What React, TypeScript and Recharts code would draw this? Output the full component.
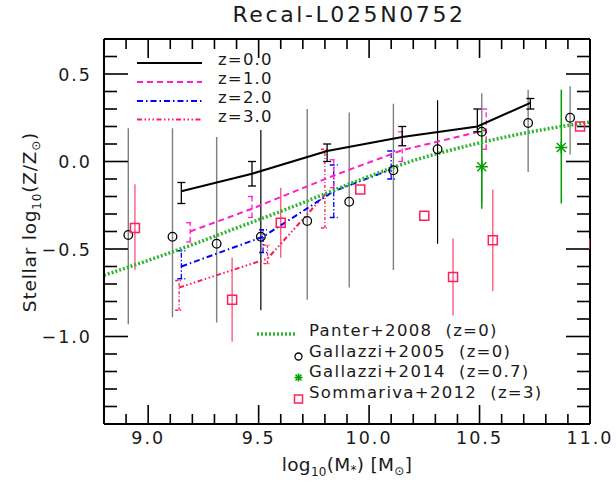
import React from 'react';
import { ComposedChart, Line, Scatter, XAxis, YAxis, ErrorBar } from 'recharts';

const FONT = "'DejaVu Sans', sans-serif";
const TXT = '#1a1a1a';

const title = 'Recal-L025N0752';
const xDomain: [number, number] = [8.8, 11.0];
const yDomain: [number, number] = [-1.5, 0.7];
const xMajorTicks = [9.0, 9.5, 10.0, 10.5, 11.0];
const xMinorTicks = [8.9, 9.1, 9.2, 9.3, 9.4, 9.6, 9.7, 9.8, 9.9, 10.1, 10.2, 10.3, 10.4, 10.6, 10.7, 10.8, 10.9];
const yMajorTicks = [-1.0, -0.5, 0.0, 0.5];
const yMinorTicks = [-1.4, -1.3, -1.2, -1.1, -0.9, -0.8, -0.7, -0.6, -0.4, -0.3, -0.2, -0.1, 0.1, 0.2, 0.3, 0.4, 0.6];

// simulation: z = 0.0
const massZ0 = [9.15, 9.47, 9.81, 10.15, 10.49, 10.73];
const metZ0 = [-0.17, -0.07, 0.06, 0.14, 0.2, 0.335];
const loZ0 = [-0.24, -0.14, 0.0, 0.09, 0.17, 0.3];
const hiZ0 = [-0.12, 0.0, 0.1, 0.2, 0.3, 0.36];
// z = 1.0
const massZ1 = [9.19, 9.47, 9.84, 10.15, 10.53];
const metZ1 = [-0.4, -0.27, -0.08, 0.065, 0.18];
const loZ1 = [-0.46, -0.32, -0.15, 0.0, 0.07];
const hiZ1 = [-0.35, -0.2, 0.01, 0.17, 0.3];
// z = 2.0
const massZ2 = [9.15, 9.52, 9.84, 10.1];
const metZ2 = [-0.6, -0.43, -0.17, -0.045];
const loZ2 = [-0.67, -0.52, -0.32, -0.1];
const hiZ2 = [-0.51, -0.39, -0.02, 0.06];
// z = 3.0
const massZ3 = [9.14, 9.54, 9.8];
const metZ3 = [-0.72, -0.555, -0.19];
const loZ3 = [-0.85, -0.584, -0.38];
const hiZ3 = [-0.68, -0.478, 0.07];

// Panter+2008 (z=0)
const panterMass = [8.8, 9.0, 9.2, 9.4, 9.6, 9.8, 10.0, 10.2, 10.4, 10.6, 10.8, 11.0];
const panterMet = [-0.65, -0.565, -0.475, -0.38, -0.285, -0.185, -0.085, 0.005, 0.075, 0.135, 0.185, 0.225];

// Gallazzi+2005 (z=0)
const gal05Mass = [8.91, 9.11, 9.31, 9.51, 9.72, 9.91, 10.11, 10.31, 10.51, 10.72, 10.91];
const gal05Met = [-0.42, -0.43, -0.47, -0.43, -0.34, -0.23, -0.05, 0.07, 0.17, 0.22, 0.25];
const gal05Lo = [-0.93, -0.89, -0.92, -0.85, -0.79, -0.72, -0.62, -0.47, -0.23, -0.06, 0.04];
const gal05Hi = [0.19, 0.19, 0.14, 0.18, 0.3, 0.28, 0.33, 0.35, 0.39, 0.41, 0.43];
const gal05BarDark = [false, false, false, true, false, false, false, true, false, false, false];

// Gallazzi+2014 (z=0.7)
const gal14Mass = [10.51, 10.87];
const gal14Met = [-0.03, 0.08];
const gal14Lo = [-0.27, -0.24];
const gal14Hi = [0.22, 0.41];

// Sommariva+2012 (z=3)
const somMass = [8.94, 9.38, 9.6, 9.96, 10.25, 10.38, 10.56, 10.955, 11.02];
const somMet = [-0.38, -0.79, -0.35, -0.16, -0.31, -0.66, -0.45, 0.2, -0.47];
const somLo = [-0.62, -1.03, -0.55, -0.16, -0.31, -0.88, -0.74, 0.2, -0.47];
const somHi = [-0.13, -0.55, -0.15, -0.16, -0.31, -0.44, -0.16, 0.2, -0.47];

const simLegend = ['z=0.0', 'z=1.0', 'z=2.0', 'z=3.0'];
const obsLegend = ['Panter+2008  (z=0)', 'Gallazzi+2005  (z=0)', 'Gallazzi+2014  (z=0.7)', 'Sommariva+2012  (z=3)'];

const C_Z0 = '#000000';
const C_Z1 = '#ff1ec8';
const C_Z2 = '#0000ff';
const C_Z3 = '#ff1a55';
const C_PANTER = '#2fb52f';
const C_GAL14 = '#00a000';
const C_SOM = '#ff1f5a';
const C_SOMBAR = '#ff5a80';
const D_Z1 = '6 4';
const D_Z2 = '6 3 1.5 3';
const D_Z3 = '5 2.5 1.5 2.5 1.5 2.5 1.5 2.5';
const D_PANTER = '2 2';

type Row = { x: number; y: number; err: [number, number] };
const rows = (xs: number[], ys: number[], lo: number[], hi: number[]): Row[] =>
  xs.map((x, i) => ({ x, y: ys[i], err: [+(ys[i] - lo[i]).toFixed(3), +(hi[i] - ys[i]).toFixed(3)] }));

const z0Rows = rows(massZ0, metZ0, loZ0, hiZ0);
const z1Rows = rows(massZ1, metZ1, loZ1, hiZ1);
const z2Rows = rows(massZ2, metZ2, loZ2, hiZ2);
const z3Rows = rows(massZ3, metZ3, loZ3, hiZ3);
const panterRows = panterMass.map((x, i) => ({ x, y: panterMet[i] }));
const gal05All = rows(gal05Mass, gal05Met, gal05Lo, gal05Hi);
const gal05Gray = gal05All.filter((_, i) => !gal05BarDark[i]);
const gal05Dark = gal05All.filter((_, i) => gal05BarDark[i]);
const gal14Rows = rows(gal14Mass, gal14Met, gal14Lo, gal14Hi);
const somRows = rows(somMass, somMet, somLo, somHi);

const fmt = (v: number) => (v < 0 ? '\u2212' + Math.abs(v).toFixed(1) : v.toFixed(1));

const XTick = (p: any) => (
  <text x={p.x} y={p.y + 20} textAnchor="middle" fontSize={17.5} fontFamily={FONT} fill={TXT} letterSpacing={2}>
    {fmt(p.payload.value)}
  </text>
);
const YTick = (p: any) => (
  <text x={p.x - 12} y={p.y + 6.5} textAnchor="end" fontSize={17.5} fontFamily={FONT} fill={TXT} letterSpacing={2}>
    {fmt(p.payload.value)}
  </text>
);
const NoLabel = () => <g />;

const OpenCircle = (p: any) =>
  p.cx == null ? null : <circle cx={p.cx} cy={p.cy} r={4.3} fill="none" stroke="#000" strokeWidth={1.3} />;
const OpenSquare = (p: any) =>
  p.cx == null ? null : (
    <rect x={p.cx - 4.5} y={p.cy - 4.5} width={9} height={9} fill="none" stroke={C_SOM} strokeWidth={1.5} />
  );
const Asterisk = ({ cx, cy, s, color, w }: { cx: number; cy: number; s: number; color: string; w: number }) => (
  <g stroke={color} strokeWidth={w}>
    <line x1={cx - s} y1={cy} x2={cx + s} y2={cy} />
    <line x1={cx} y1={cy - s} x2={cx} y2={cy + s} />
    <line x1={cx - s * 0.75} y1={cy - s * 0.75} x2={cx + s * 0.75} y2={cy + s * 0.75} />
    <line x1={cx - s * 0.75} y1={cy + s * 0.75} x2={cx + s * 0.75} y2={cy - s * 0.75} />
  </g>
);
const AsteriskShape = (p: any) =>
  p.cx == null ? null : <Asterisk cx={p.cx} cy={p.cy} s={6} color={C_GAL14} w={1.5} />;

const frameLine = { stroke: '#000', strokeWidth: 2 };
const tickLineStyle = { stroke: '#000', strokeWidth: 1.6 };

export default function App() {
  const simColors = [C_Z0, C_Z1, C_Z2, C_Z3];
  const simDash = [undefined, D_Z1, D_Z2, D_Z3];
  const simY = [63, 82, 101, 119.5];
  const obsY = [336, 356.5, 377, 398];
  return (
    <div style={{ position: 'absolute', left: 0, top: 0, width: 616, height: 491, background: '#fff' }}>
      <ComposedChart width={616} height={491} data={panterRows} margin={{ top: 39, right: 26, bottom: 27, left: 44 }}>
        <XAxis
          xAxisId="x"
          dataKey="x"
          type="number"
          domain={xDomain}
          allowDataOverflow
          ticks={xMajorTicks}
          interval={0}
          tickLine={false}
          axisLine={false}
          tickSize={0}
          tickMargin={0}
          height={40}
          tick={XTick}
        />
        <YAxis
          yAxisId="y"
          dataKey="y"
          type="number"
          domain={yDomain}
          allowDataOverflow
          ticks={yMajorTicks}
          interval={0}
          tickLine={false}
          axisLine={false}
          tickSize={0}
          tickMargin={0}
          width={60}
          tick={YTick}
        />
        {/* frame and inward ticks */}
        <XAxis xAxisId="xb" dataKey="x" type="number" domain={xDomain} allowDataOverflow orientation="bottom" mirror height={1} ticks={xMajorTicks} interval={0} tick={NoLabel} tickSize={19} axisLine={frameLine} tickLine={tickLineStyle} />
        <XAxis xAxisId="xbm" dataKey="x" type="number" domain={xDomain} allowDataOverflow orientation="bottom" mirror height={1} ticks={xMinorTicks} interval={0} tick={NoLabel} tickSize={9} axisLine={false} tickLine={tickLineStyle} />
        <XAxis xAxisId="xt" dataKey="x" type="number" domain={xDomain} allowDataOverflow orientation="top" mirror height={1} ticks={xMajorTicks} interval={0} tick={NoLabel} tickSize={19} axisLine={frameLine} tickLine={tickLineStyle} />
        <XAxis xAxisId="xtm" dataKey="x" type="number" domain={xDomain} allowDataOverflow orientation="top" mirror height={1} ticks={xMinorTicks} interval={0} tick={NoLabel} tickSize={9} axisLine={false} tickLine={tickLineStyle} />
        <YAxis yAxisId="yl" dataKey="y" type="number" domain={yDomain} allowDataOverflow orientation="left" mirror width={1} ticks={yMajorTicks} interval={0} tick={NoLabel} tickSize={24} axisLine={frameLine} tickLine={tickLineStyle} />
        <YAxis yAxisId="ylm" dataKey="y" type="number" domain={yDomain} allowDataOverflow orientation="left" mirror width={1} ticks={yMinorTicks} interval={0} tick={NoLabel} tickSize={12} axisLine={false} tickLine={tickLineStyle} />
        <YAxis yAxisId="yr" dataKey="y" type="number" domain={yDomain} allowDataOverflow orientation="right" mirror width={1} ticks={yMajorTicks} interval={0} tick={NoLabel} tickSize={24} axisLine={frameLine} tickLine={tickLineStyle} />
        <YAxis yAxisId="yrm" dataKey="y" type="number" domain={yDomain} allowDataOverflow orientation="right" mirror width={1} ticks={yMinorTicks} interval={0} tick={NoLabel} tickSize={12} axisLine={false} tickLine={tickLineStyle} />

        {/* invisible carriers so the frame axes own a scale */}
        <Line xAxisId="xb" yAxisId="yl" dataKey="y" stroke="none" dot={false} activeDot={false} legendType="none" isAnimationActive={false} />
        <Line xAxisId="xbm" yAxisId="ylm" dataKey="y" stroke="none" dot={false} activeDot={false} legendType="none" isAnimationActive={false} />
        <Line xAxisId="xt" yAxisId="yr" dataKey="y" stroke="none" dot={false} activeDot={false} legendType="none" isAnimationActive={false} />
        <Line xAxisId="xtm" yAxisId="yrm" dataKey="y" stroke="none" dot={false} activeDot={false} legendType="none" isAnimationActive={false} />

        {/* observations */}
        <Scatter xAxisId="x" yAxisId="y" data={gal05Gray} shape={OpenCircle} isAnimationActive={false}>
          <ErrorBar dataKey="err" direction="y" width={0} stroke="#7f7f7f" strokeWidth={1.4} />
        </Scatter>
        <Scatter xAxisId="x" yAxisId="y" data={gal05Dark} shape={OpenCircle} isAnimationActive={false}>
          <ErrorBar dataKey="err" direction="y" width={0} stroke="#000" strokeWidth={1.2} />
        </Scatter>
        <Scatter xAxisId="x" yAxisId="y" data={somRows} shape={OpenSquare} isAnimationActive={false}>
          <ErrorBar dataKey="err" direction="y" width={0} stroke={C_SOMBAR} strokeWidth={1.4} />
        </Scatter>
        <Scatter xAxisId="x" yAxisId="y" data={gal14Rows} shape={AsteriskShape} isAnimationActive={false}>
          <ErrorBar dataKey="err" direction="y" width={0} stroke={C_GAL14} strokeWidth={1.5} />
        </Scatter>

        {/* simulation */}
        <Line xAxisId="x" yAxisId="y" data={z3Rows} dataKey="y" stroke={C_Z3} strokeWidth={2} strokeDasharray={D_Z3} dot={false} isAnimationActive={false}>
          <ErrorBar dataKey="err" direction="y" width={4} stroke={C_Z3} strokeWidth={1.3} strokeDasharray="3 2 1 2" />
        </Line>
        <Line xAxisId="x" yAxisId="y" data={z2Rows} dataKey="y" stroke={C_Z2} strokeWidth={2} strokeDasharray={D_Z2} dot={false} isAnimationActive={false}>
          <ErrorBar dataKey="err" direction="y" width={4} stroke={C_Z2} strokeWidth={1.3} strokeDasharray="5 2 1.5 2" />
        </Line>
        <Line xAxisId="x" yAxisId="y" data={z1Rows} dataKey="y" stroke={C_Z1} strokeWidth={2} strokeDasharray={D_Z1} dot={false} isAnimationActive={false}>
          <ErrorBar dataKey="err" direction="y" width={4} stroke={C_Z1} strokeWidth={1.3} strokeDasharray="5 3" />
        </Line>
        <Line xAxisId="x" yAxisId="y" data={z0Rows} dataKey="y" stroke={C_Z0} strokeWidth={2} dot={false} isAnimationActive={false}>
          <ErrorBar dataKey="err" direction="y" width={4} stroke={C_Z0} strokeWidth={1.3} />
        </Line>
        <Line xAxisId="x" yAxisId="y" data={panterRows} dataKey="y" type="monotone" stroke={C_PANTER} strokeWidth={3.5} strokeDasharray={D_PANTER} dot={false} isAnimationActive={false} />
      </ComposedChart>

      <svg width={616} height={491} style={{ position: 'absolute', left: 0, top: 0, pointerEvents: 'none' }} fontFamily={FONT}>
        <text x={349} y={22} textAnchor="middle" fontSize={22} fill={TXT} letterSpacing={2.6}>{title}</text>

        <text x={347} y={471} textAnchor="middle" fontSize={18.5} fill={TXT} letterSpacing={0.3}>
          <tspan>log</tspan>
          <tspan fontSize={12} dy={5}>10</tspan>
          <tspan dy={-5}>(M</tspan>
          <tspan fontSize={12} dy={3}>*</tspan>
          <tspan dy={-3}>) [M</tspan>
          <tspan fontSize={12} dy={4}>⊙</tspan>
          <tspan dy={-4}>]</tspan>
        </text>

        <text x={36} y={222} transform="rotate(-90 36 222)" textAnchor="middle" fontSize={18.5} fill={TXT} letterSpacing={0.8}>
          <tspan>Stellar log</tspan>
          <tspan fontSize={12} dy={5}>10</tspan>
          <tspan dy={-5}>(Z/Z</tspan>
          <tspan fontSize={12} dy={4}>⊙</tspan>
          <tspan dy={-4}>)</tspan>
        </text>

        {simLegend.map((lab, i) => (
          <g key={lab}>
            <line x1={137} y1={simY[i]} x2={202} y2={simY[i]} stroke={simColors[i]} strokeWidth={2} strokeDasharray={simDash[i]} />
            <text x={218} y={simY[i] + 2} fontSize={16.5} fill={TXT} letterSpacing={1.2}>{lab}</text>
          </g>
        ))}

        <line x1={257} y1={334} x2={297} y2={334} stroke={C_PANTER} strokeWidth={3.5} strokeDasharray={D_PANTER} />
        <circle cx={298.5} cy={356.5} r={3.5} fill="none" stroke="#000" strokeWidth={1.3} />
        <Asterisk cx={298.5} cy={377.5} s={4} color={C_GAL14} w={1.6} />
        <rect x={294.5} y={395} width={8} height={8} fill="none" stroke={C_SOM} strokeWidth={1.5} />
        {obsLegend.map((lab, i) => (
          <text key={lab} x={309} y={obsY[i]} fontSize={16.5} fill={TXT} letterSpacing={1.3} style={{ whiteSpace: 'pre' }}>{lab}</text>
        ))}
      </svg>
    </div>
  );
}
